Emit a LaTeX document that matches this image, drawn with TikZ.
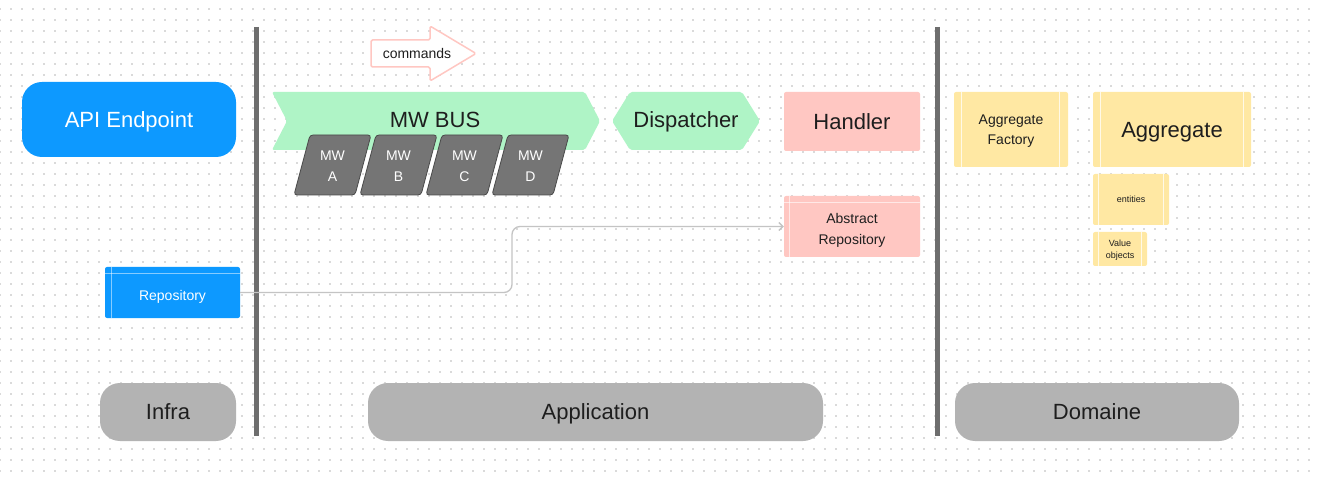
\documentclass[tikz,border=0pt]{standalone}
\usepackage{fontspec}
\setmainfont{Liberation Sans}
\usetikzlibrary{arrows.meta}
\definecolor{dotc}{HTML}{DADADA}
\definecolor{txt}{HTML}{1E1E1E}
\definecolor{figblue}{HTML}{0D99FF}
\definecolor{pillgray}{HTML}{B3B3B3}
\definecolor{bargray}{HTML}{6E6E6E}
\definecolor{mwgreen}{HTML}{AFF4C6}
\definecolor{mwdark}{HTML}{757575}
\definecolor{mwborder}{HTML}{4A4A4A}
\definecolor{pinkc}{HTML}{FFC7C2}
\definecolor{yellowc}{HTML}{FFE8A3}
\definecolor{connc}{HTML}{C4C4C4}
\newcommand{\fs}[2]{\fontsize{#1}{#2}\selectfont}
\tikzset{
  box/.style={rectangle, inner sep=0pt, align=center, text=txt},
  capc/.style={text height=#1, text depth=0pt},
  big/.style={font=\fs{22}{26}, capc=15.8pt},
  mid/.style={font=\fs{14}{20}, capc=10pt},
  midtwo/.style={font=\fs{14}{#1}, capc={10pt+#1}},
  small/.style={font=\fs{9}{12}, capc=6.5pt},
  smalltwo/.style={font=\fs{9}{12}, capc=18.5pt},
  pill/.style={box, big, fill=pillgray, rounded corners=20pt},
  bluebox/.style={box, fill=figblue, text=white},
  pinkbox/.style={box, fill=pinkc, rounded corners=2pt},
  yellowbox/.style={box, fill=yellowc, rounded corners=2pt},
  sepline/.style={white, line width=1.3pt, opacity=0.75},
  vbar/.style={bargray, line width=5pt},
  mwpara/.style={fill=mwdark, draw=mwborder, line width=0.8pt, rounded corners=3pt},
  mwtext/.style={text=white, align=center, inner sep=0pt, midtwo=21pt},
  conn/.style={connc, line width=1.3pt, rounded corners=8pt, -{Straight Barb[length=4pt,width=8pt]}},
}
\begin{document}
\begin{tikzpicture}[x=1pt,y=-1pt]
\useasboundingbox (0,0) rectangle (1317,478);
\fill[white] (0,0) rectangle (1317,478);
% dot grid
\foreach \i in {0,...,119} {
  \foreach \j in {0,...,42} {
    \fill[dotc] ({\i*11-0.55},{9+\j*11-0.55}) rectangle ++(1.1,1.1);
  }
}
% vertical separators
\draw[vbar] (256,27) -- (256,436);
\draw[vbar] (937,27) -- (937,436);

% layer pills
\node[pill, minimum width=136pt, minimum height=58pt] (infra) at (168,412) {Infra};
\node[pill, minimum width=455pt, minimum height=58pt] (app) at (595.5,412) {Application};
\node[pill, minimum width=284pt, minimum height=58pt] (dom) at (1097,412) {Domaine};

% API endpoint
\node[bluebox, big, rounded corners=20pt, minimum width=214pt, minimum height=75pt] (api) at (129,119.5) {API Endpoint};

% Repository
\node[bluebox, mid, capc=17pt, rounded corners=2pt, minimum width=135pt, minimum height=51pt] (repo) at (172.5,292.5) {Repository};
\draw[sepline, opacity=0.5] ([xshift=7pt]repo.north west) -- ([xshift=7pt]repo.south west);
\draw[sepline, opacity=0.5] ([yshift=-7pt]repo.north west) -- ([yshift=-7pt]repo.north east);

% commands arrow
\draw[pinkc, fill=white, line width=1.5pt, line join=round, rounded corners=1.5pt]
  (371,40) -- (430,40) -- (430,26) -- (476,53.5) -- (430,81) -- (430,67) -- (371,67) -- cycle;
\node[box, mid] (cmd) at (417,54) {commands};

% MW BUS
\fill[mwgreen, rounded corners=2pt] (272,92) -- (585,92) -- (600,121) -- (585,150) -- (272,150) -- (287,121) -- cycle;
\node[box, big] (bus) at (435,120) {MW BUS};

% middlewares
\foreach \k/\l in {0/A,1/B,2/C,3/D} {
  \pgfmathsetmacro{\xx}{310+66*\k}
  \draw[mwpara] (\xx,135) -- ({\xx+61},135) -- ({\xx+45},195) -- ({\xx-16},195) -- cycle;
  \node[mwtext] (mw\l) at ({\xx+22.5},166) {MW\\\l};
}

% Dispatcher
\fill[mwgreen, rounded corners=2pt] (612,121) -- (630,92) -- (742,92) -- (760,121) -- (742,150) -- (630,150) -- cycle;
\node[box, big] (disp) at (686,120) {Dispatcher};

% Handler and abstract repository
\node[pinkbox, big, minimum width=136pt, minimum height=59pt] (handler) at (852,121.5) {Handler};
\node[pinkbox, midtwo=21pt, capc=37pt, minimum width=136pt, minimum height=61pt] (absrepo) at (852,226.5) {Abstract\\Repository};
\draw[sepline, opacity=0.6] ([xshift=6pt]absrepo.north west) -- ([xshift=6pt]absrepo.south west);
\draw[sepline, opacity=0.6] ([yshift=-7pt]absrepo.north west) -- ([yshift=-7pt]absrepo.north east);

% connector
\draw[conn] (repo.east) -- (512,292.5) |- (absrepo.west);

% Domain boxes
\node[yellowbox, midtwo=20pt, minimum width=114pt, minimum height=75pt] (afact) at (1011,129.5) {Aggregate\\Factory};
\draw[sepline] ([xshift=8pt]afact.north west) -- ([xshift=8pt]afact.south west);
\draw[sepline] ([xshift=-9pt]afact.north east) -- ([xshift=-9pt]afact.south east);

\node[yellowbox, big, minimum width=158pt, minimum height=75pt] (agg) at (1172,129.5) {Aggregate};
\draw[sepline] ([xshift=8pt]agg.north west) -- ([xshift=8pt]agg.south west);
\draw[sepline] ([xshift=-8pt]agg.north east) -- ([xshift=-8pt]agg.south east);

\node[yellowbox, small, minimum width=76pt, minimum height=51pt] (ent) at (1131,199.5) {entities};
\draw[sepline] ([xshift=6pt]ent.north west) -- ([xshift=6pt]ent.south west);
\draw[sepline] ([xshift=-6pt]ent.north east) -- ([xshift=-6pt]ent.south east);

\node[yellowbox, smalltwo, minimum width=54pt, minimum height=34pt] (vo) at (1120,249) {Value\\objects};
\draw[sepline] ([xshift=6pt]vo.north west) -- ([xshift=6pt]vo.south west);
\draw[sepline] ([xshift=-6pt]vo.north east) -- ([xshift=-6pt]vo.south east);
\end{tikzpicture}
\end{document}
